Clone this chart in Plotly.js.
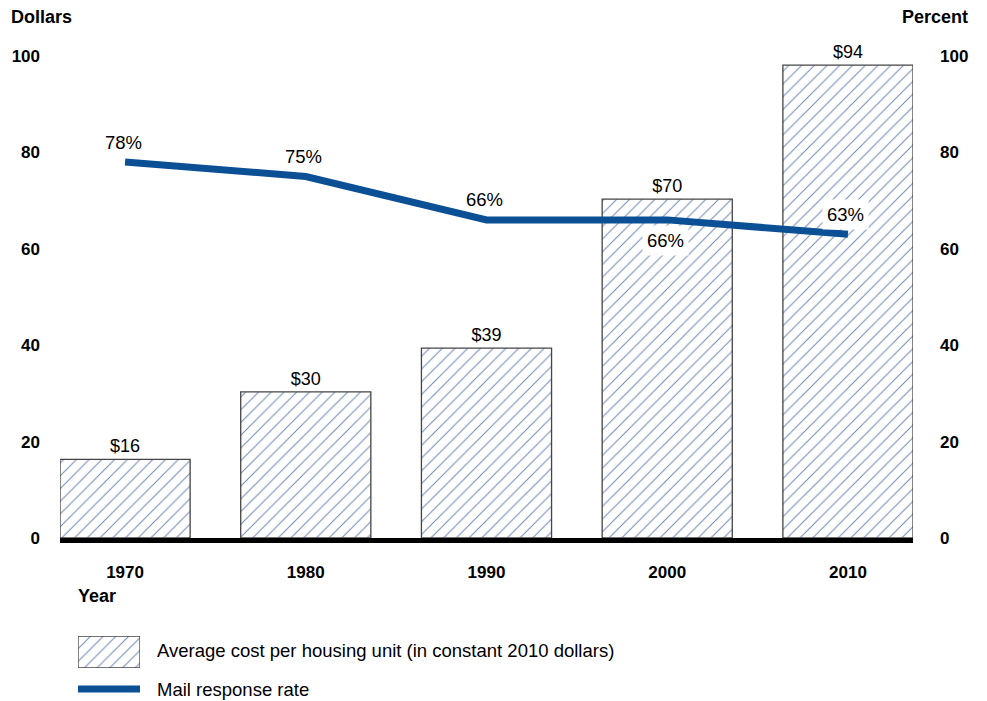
<!DOCTYPE html>
<html>
<head>
<meta charset="utf-8">
<script src="https://cdn.plot.ly/plotly-3.0.1.min.js"></script>
<style>html,body{margin:0;padding:0;background:#fff;}#chart{width:987px;height:701px;}</style>
</head>
<body>
<div id="chart"></div>
<script>
// Data
var years = ['1970', '1980', '1990', '2000', '2010'];
var costValues = [16.3, 30.3, 39.4, 70.3, 98.1];
var costLabels = ['$16', '$30', '$39', '$70', '$94'];
var responseRate = [78, 75, 66, 66, 63];
var responseLabels = ['78%', '75%', '66%', '66%', '63%'];
var labelBelow = [false, false, false, true, false];
var labelBoxed = [false, false, false, true, true];
var legendCostText = 'Average cost per housing unit (in constant 2010 dollars)';
var legendRateText = 'Mail response rate';

var W = 987, H = 701;
function px(x) { return x / W; }
function py(y) { return 1 - y / H; }
var FONT = 'Liberation Sans, Arial, sans-serif';
var lineColor = '#0b4f94';
var hatchColor = '#6f88b6';
var barEdge = '#444444';

var barTrace = {
  type: 'bar', x: years, y: costValues, width: 0.72,
  text: costLabels, textposition: 'outside', cliponaxis: false,
  textfont: {family: FONT, size: 18, color: '#000'},
  marker: {color: '#ffffff', line: {color: barEdge, width: 1.3},
    pattern: {shape: '/', fgcolor: hatchColor, bgcolor: '#ffffff', size: 9, solidity: 0.11}},
  hoverinfo: 'skip', showlegend: false
};
var lineTrace = {
  type: 'scatter', mode: 'lines', x: years, y: responseRate, yaxis: 'y2',
  line: {color: lineColor, width: 7}, hoverinfo: 'skip', showlegend: false, cliponaxis: false
};
var legendSwatch = {
  type: 'bar', x: [0], y: [1], width: 1, xaxis: 'x3', yaxis: 'y3',
  marker: {color: '#ffffff', line: {color: barEdge, width: 1.3},
    pattern: {shape: '/', fgcolor: hatchColor, bgcolor: '#ffffff', size: 9, solidity: 0.11}},
  hoverinfo: 'skip', showlegend: false
};

var annotations = [];
for (var i = 0; i < years.length; i++) {
  annotations.push({
    x: i, y: responseRate[i], xref: 'x', yref: 'y2',
    text: responseLabels[i], showarrow: false,
    xshift: -2,
    yshift: labelBelow[i] ? -21 : 20,
    font: {family: FONT, size: 18.5, color: '#000'},
    bgcolor: labelBoxed[i] ? '#ffffff' : 'rgba(255,255,255,0)', borderpad: 4
  });
}
annotations.push(
  {xref: 'paper', yref: 'paper', x: px(9), y: py(17), xanchor: 'left', yanchor: 'middle',
   text: '<b>Dollars</b>', showarrow: false, font: {family: FONT, size: 18, color: '#000'}},
  {xref: 'paper', yref: 'paper', x: px(970), y: py(17), xanchor: 'right', yanchor: 'middle',
   text: '<b>Percent</b>', showarrow: false, font: {family: FONT, size: 18, color: '#000'}},
  {xref: 'paper', yref: 'paper', x: px(76), y: py(596), xanchor: 'left', yanchor: 'middle',
   text: '<b>Year</b>', showarrow: false, font: {family: FONT, size: 18, color: '#000'}},
  {xref: 'paper', yref: 'paper', x: px(155), y: py(650), xanchor: 'left', yanchor: 'middle',
   text: legendCostText, showarrow: false, font: {family: FONT, size: 18.5, color: '#000'}},
  {xref: 'paper', yref: 'paper', x: px(155), y: py(689), xanchor: 'left', yanchor: 'middle',
   text: legendRateText, showarrow: false, font: {family: FONT, size: 18.5, color: '#000'}}
);

var tickFont = {family: FONT, size: 17, color: '#000', weight: 'bold'};
var layout = {
  width: W, height: H,
  margin: {l: 0, r: 0, t: 0, b: 0},
  paper_bgcolor: '#fff', plot_bgcolor: 'rgba(0,0,0,0)',
  font: {family: FONT},
  xaxis: {type: 'category', domain: [px(60), px(913)], anchor: 'y', range: [-0.36, 4.36],
    showgrid: false, zeroline: false,
    showline: true, linecolor: '#000', linewidth: 5, ticks: '', ticklabelstandoff: 15,
    tickfont: tickFont, fixedrange: true},
  yaxis: {domain: [py(538), py(56)], anchor: 'x', range: [0, 100], tickvals: [0, 20, 40, 60, 80, 100],
    showgrid: false, zeroline: false,
    showline: false, ticks: '', ticklabelstandoff: 19, tickfont: tickFont, fixedrange: true},
  yaxis2: {domain: [py(538), py(56)], range: [0, 100], overlaying: 'y', side: 'right', anchor: 'x',
    tickvals: [0, 20, 40, 60, 80, 100],
    showgrid: false, zeroline: false, showline: false, ticks: '', ticklabelstandoff: 26,
    tickfont: tickFont, fixedrange: true},
  xaxis3: {domain: [px(78), px(140)], anchor: 'y3', range: [-0.5, 0.5], visible: false, fixedrange: true},
  yaxis3: {domain: [py(668), py(636)], anchor: 'x3', range: [0, 1], visible: false, fixedrange: true},
  shapes: [
    {type: 'line', xref: 'paper', yref: 'paper', x0: px(78), x1: px(140),
     y0: py(689), y1: py(689), line: {color: lineColor, width: 7}}
  ],
  annotations: annotations,
  showlegend: false
};

Plotly.newPlot('chart', [barTrace, lineTrace, legendSwatch], layout, {displayModeBar: false, staticPlot: true});
</script>
</body>
</html>
